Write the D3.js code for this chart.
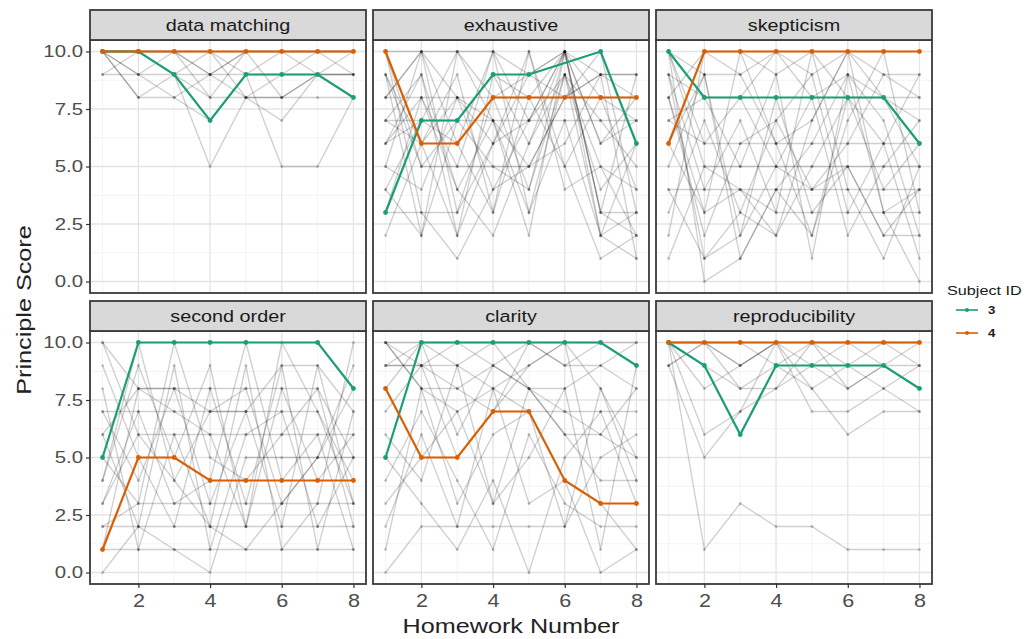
<!DOCTYPE html>
<html>
<head>
<meta charset="utf-8">
<script src="https://cdn.jsdelivr.net/npm/d3@7"></script>
<style>
  body { margin: 0; background: #fff; }
  svg { display: block; font-family: "Liberation Sans", Arial, sans-serif; }
</style>
</head>
<body>
<svg id="chart" width="1029" height="639"></svg>
<script>
(function () {

  // facets, in reading order
  var principles = ['data matching', 'exhaustive', 'skepticism', 'second order', 'clarity', 'reproducibility']
  var homework = [1, 2, 3, 4, 5, 6, 7, 8]
  var xTicks = [2, 4, 6, 8]
  var yTicks = [0, 2.5, 5, 7.5, 10]

  // highlighted subjects, one row per principle (null = no score that week)
  var subject3 = [
    [10, 10, 9, 7, 9, 9, 9, 8],
    [3, 7, 7, 9, 9, null, 10, 6],
    [10, 8, 8, 8, 8, 8, 8, 6],
    [5, 10, 10, 10, 10, null, 10, 8],
    [5, 10, 10, 10, 10, 10, 10, 9],
    [10, 9, 6, 9, 9, 9, 9, 8]
  ]
  var subject4 = [
    [10, 10, 10, 10, 10, 10, 10, 10],
    [10, 6, 6, 8, 8, 8, 8, 8],
    [6, 10, 10, 10, 10, 10, 10, 10],
    [1, 5, 5, 4, 4, 4, 4, 4],
    [8, 5, 5, 7, 7, 4, 3, 3],
    [10, 10, 10, 10, 10, 10, 10, 10]
  ]

  // everybody else (grey lines), one array per principle
  var dataMatching = [
    [10, 8, 9, 10, 8, 8, 8, 8],
    [10, 9, 9, 9, 9, 9, 9, 9],
    [10, 10, 9, 5, 8, 9, 10, 9],
    [10, 10, 10, 10, 9, 5, 5, 8],
    [9, 10, 10, 8, 10, 10, 10, 10],
    [10, 8, 8, 9, 10, 10, 9, 8],
    [10, 10, 10, 10, 10, 10, 10, 10],
    [10, 10, 9, 8, 8, 7, 9, 10],
    [10, 9, 10, 9, 10, 8, 9, 9],
    [9, 9, 8, 7, 9, 10, 10, 10],
    [10, 10, 10, 9, 8, 8, 9, 9]
  ]
  var exhaustive = [
    [10, 10, 10, 10, 9, 10, 2, 3],
    [9, 5, 5, 5, 5, 8, 9, 9],
    [8, 8, 8, 8, 8, 8, 8, 8],
    [7, 7, 7, 7, 7, 7, 7, 7],
    [6, 7, 10, 8, 9, 10, 9, 9],
    [8, 10, 6, 10, 7, 10, 3, 2],
    [3, 3, 3, 6, 7, 9, 5, 2],
    [5, 10, 8, 7, 3, 9, 2, 1],
    [4, 2, 10, 7, 2, 10, 8, 4],
    [7, 6, 2, 9, 8, 10, 3, 3],
    [10, 3, 1, 4, 5, 6, 9, 1],
    [6, 9, 4, 2, 6, 9, 4, 6],
    [2, 6, 9, 3, 10, 5, 8, 7],
    [9, 2, 7, 5, 4, 10, 6, 8],
    [6, 8, 5, 10, 3, 7, 2, 6],
    [5, 4, 8, 6, 9, 8, 10, 3],
    [8, 10, 3, 8, 4, 9, 7, 5],
    [4, 7, 6, 3, 8, 5, 1, 2],
    [10, 5, 7, 9, 6, 10, 6, 7],
    [7, 9, 2, 6, 10, 4, 5, 4],
    [3, 8, 4, 7, 5, 8, 9, 8],
    [9, 6, 8, 4, 7, 10, 3, 9]
  ]
  var skepticism = [
    [10, 9, 9, 10, 9, 10, 9, 9],
    [9, 8, 8, 10, 8, 9, 8, 8],
    [8, 10, 10, 9, 10, 8, 8, 7],
    [10, 5, 5, 5, 5, 5, 5, 5],
    [4, 4, 4, 4, 4, 4, 4, 4],
    [7, 6, 6, 6, 6, 6, 6, 6],
    [1, 5, 4, 3, 3, 3, 3, 3],
    [9, 1, 2, 5, 4, 5, 2, 2],
    [10, 0, 1, 4, 6, 9, 3, 0],
    [6, 3, 4, 2, 7, 10, 8, 5],
    [5, 9, 2, 8, 3, 5, 2, 4],
    [8, 2, 6, 7, 9, 3, 6, 1],
    [3, 7, 3, 2, 5, 8, 4, 6],
    [2, 10, 9, 6, 2, 7, 10, 3],
    [9, 4, 7, 3, 10, 4, 1, 5],
    [7, 8, 5, 9, 1, 9, 7, 2],
    [10, 6, 8, 5, 8, 2, 5, 7],
    [4, 1, 3, 7, 4, 6, 9, 8],
    [8, 3, 10, 6, 7, 10, 3, 4],
    [6, 9, 1, 4, 2, 8, 6, 9]
  ]
  var secondOrder = [
    [10, 8, 8, 7, 7, 9, 9, 7],
    [7, 7, 7, 7, 7, 7, 7, 4],
    [3, 6, 6, 6, 6, 6, 6, 6],
    [6, 8, 8, 8, 8, 8, 8, 5],
    [2, 3, 3, 3, 3, 3, 3, 3],
    [2, 2, 2, 2, 2, 2, 2, 2],
    [1, 1, 1, 1, 1, 1, 1, 1],
    [0, 2, 1, 0, 5, 5, 5, 5],
    [10, 6, 4, 2, 1, 3, 5, 8],
    [7, 4, 8, 3, 7, 2, 9, 3],
    [4, 9, 5, 9, 2, 8, 4, 6],
    [8, 1, 6, 2, 9, 1, 3, 10],
    [5, 3, 10, 5, 4, 6, 8, 2],
    [9, 5, 2, 8, 3, 9, 1, 7],
    [3, 7, 3, 4, 10, 4, 6, 1],
    [6, 2, 9, 1, 6, 7, 2, 5],
    [1, 8, 7, 6, 2, 10, 7, 3],
    [4, 10, 4, 7, 8, 3, 5, 9]
  ]
  var clarity = [
    [10, 10, 10, 10, 10, 10, 10, 10],
    [9, 9, 10, 9, 10, 9, 10, 9],
    [10, 8, 8, 9, 8, 8, 9, 8],
    [9, 9, 9, 8, 7, 7, 7, 7],
    [8, 10, 9, 10, 8, 6, 6, 8],
    [10, 8, 7, 8, 9, 10, 8, 5],
    [7, 9, 8, 7, 10, 9, 9, 10],
    [9, 10, 6, 9, 8, 7, 6, 5],
    [3, 5, 7, 3, 8, 6, 4, 4],
    [2, 6, 2, 8, 3, 4, 0, 1],
    [0, 2, 2, 2, 2, 2, 5, 6],
    [5, 3, 1, 4, 0, 5, 7, 3],
    [4, 7, 4, 1, 6, 3, 2, 2],
    [6, 4, 9, 3, 5, 8, 1, 9],
    [1, 8, 3, 6, 7, 2, 8, 4],
    [10, 9, 5, 7, 9, 10, 3, 1]
  ]
  var reproducibility = [
    [10, 1, 3, 2, 2, 1, 1, 1],
    [9, 5, 7, 8, 9, 8, 9, 9],
    [10, 6, 7, 10, 8, 6, 7, 7],
    [9, 10, 9, 10, 7, 7, 8, 9],
    [10, 10, 10, 10, 10, 10, 10, 10],
    [10, 9, 8, 8, 10, 9, 10, 10],
    [9, 10, 9, 10, 9, 10, 9, 8],
    [10, 10, 10, 9, 8, 9, 8, 7],
    [10, 8, 9, 10, 10, 8, 9, 10],
    [10, 10, 8, 9, 10, 10, 10, 9]
  ]
  var others = [dataMatching, exhaustive, skepticism, secondOrder, clarity, reproducibility]

  var subjectIds = ['3', '4']
  var colors = ['#1b9e77', '#d95f02']

  // layout
  var colLeft = [90, 373, 656]
  var rowTop = [40, 331]
  var panelW = 276, panelH = 253, stripH = 30
  var stretch = 1.2   // the reference type is set wide

  var svg = d3.select('#chart')

  var x = d3.scaleLinear().domain([0.65, 8.35]).range([0, panelW])
  var y = d3.scaleLinear().domain([-0.5, 10.5]).range([panelH, 0])

  // turn a row of 8 scores into points, skipping the missing weeks
  function toPoints(row) {
    return homework.map((h, i) => ({ hw: h, score: row[i] })).filter(d => d.score != null)
  }

  var line = d3.line().x(d => x(d.hw)).y(d => y(d.score))

  function wideText(parent, px, py, str, size, opts) {
    opts = opts || {}
    var g = parent.append('g')
      .attr('transform', 'translate(' + px + ',' + py + ')' + (opts.rotate ? ' rotate(' + opts.rotate + ')' : '') + ' scale(' + stretch + ',1)')
    return g.append('text')
      .attr('text-anchor', opts.anchor || 'middle')
      .attr('font-size', size)
      .attr('font-weight', opts.weight || 'normal')
      .attr('fill', opts.color || '#1a1a1a')
      .text(str)
  }

  principles.forEach(function (name, p) {
    var col = p % 3, row = Math.floor(p / 3)
    var g = svg.append('g').attr('transform', 'translate(' + colLeft[col] + ',' + rowTop[row] + ')')

    g.append('rect').attr('width', panelW).attr('height', panelH).attr('fill', 'white')

    // minor grid then major grid
    g.selectAll('.minY').data([1.25, 3.75, 6.25, 8.75]).enter().append('line')
      .attr('x1', 0).attr('x2', panelW).attr('y1', d => y(d)).attr('y2', d => y(d))
      .attr('stroke', '#f0f0f0').attr('stroke-width', 0.8)
    g.selectAll('.minX').data([1, 3, 5, 7]).enter().append('line')
      .attr('y1', 0).attr('y2', panelH).attr('x1', d => x(d)).attr('x2', d => x(d))
      .attr('stroke', '#f0f0f0').attr('stroke-width', 0.8)
    g.selectAll('.majY').data(yTicks).enter().append('line')
      .attr('x1', 0).attr('x2', panelW).attr('y1', d => y(d)).attr('y2', d => y(d))
      .attr('stroke', '#e4e4e4').attr('stroke-width', 1.3)
    g.selectAll('.majX').data(xTicks).enter().append('line')
      .attr('y1', 0).attr('y2', panelH).attr('x1', d => x(d)).attr('x2', d => x(d))
      .attr('stroke', '#e4e4e4').attr('stroke-width', 1.3)

    // grey spaghetti
    var rows = others[p].map(toPoints)
    g.selectAll('.grey').data(rows).enter().append('path')
      .attr('d', line)
      .attr('fill', 'none')
      .attr('stroke', 'black')
      .attr('stroke-opacity', 0.19)
      .attr('stroke-width', 1.35)
    g.selectAll('.greyDot').data(d3.merge(rows)).enter().append('circle')
      .attr('cx', d => x(d.hw)).attr('cy', d => y(d.score)).attr('r', 1.5)
      .attr('fill', 'black').attr('fill-opacity', 0.2)

    // highlighted subjects
    ;[subject3, subject4].forEach(function (subj, s) {
      var pts = toPoints(subj[p])
      g.append('path').datum(pts)
        .attr('d', line)
        .attr('fill', 'none')
        .attr('stroke', colors[s])
        .attr('stroke-width', 2.2)
      g.selectAll('.dot' + s).data(pts).enter().append('circle')
        .attr('cx', d => x(d.hw)).attr('cy', d => y(d.score)).attr('r', 2.4)
        .attr('fill', colors[s])
    })

    // border
    g.append('rect').attr('width', panelW).attr('height', panelH)
      .attr('fill', 'none').attr('stroke', '#3a3a3a').attr('stroke-width', 1.8)

    // strip
    g.append('rect').attr('y', -stripH).attr('width', panelW).attr('height', stripH)
      .attr('fill', '#d9d9d9').attr('stroke', '#3a3a3a').attr('stroke-width', 1.8)
    wideText(g, panelW / 2, -stripH / 2 + 6, name, 16.5)

    // axes only on the outer sides
    if (col === 0) {
      var ay = g.append('g').call(d3.axisLeft(y).tickValues(yTicks).tickFormat(d3.format('.1f')).tickSize(4).tickPadding(3))
      ay.select('.domain').remove()
      ay.selectAll('line').attr('stroke', '#333333').attr('stroke-width', 1.2)
      ay.selectAll('text')
        .attr('font-size', 17).attr('fill', '#4d4d4d').attr('font-family', null)
        .attr('x', -7 / stretch).attr('transform', 'scale(' + stretch + ',1)')
    }
    if (row === 1) {
      var ax = g.append('g').attr('transform', 'translate(0,' + panelH + ')')
        .call(d3.axisBottom(x).tickValues(xTicks).tickSize(4).tickPadding(6))
      ax.select('.domain').remove()
      ax.selectAll('line').attr('stroke', '#333333').attr('stroke-width', 1.2)
      ax.selectAll('text')
        .attr('font-size', 18).attr('fill', '#4d4d4d').attr('font-family', null)
        .attr('transform', 'scale(' + stretch + ',1)')
    }
  })

  // axis titles
  wideText(svg, 511, 633, 'Homework Number', 21, { color: '#222' })
  wideText(svg, 31, 310, 'Principle Score', 21, { rotate: -90, color: '#222' })

  // legend
  var legend = svg.append('g')
  wideText(legend, 947, 295, 'Subject ID', 13.5, { anchor: 'start' })
  subjectIds.forEach(function (id, i) {
    var ly = 310 + i * 23
    legend.append('line').attr('x1', 956).attr('x2', 978).attr('y1', ly).attr('y2', ly)
      .attr('stroke', colors[i]).attr('stroke-width', 1.6)
    legend.append('circle').attr('cx', 967).attr('cy', ly).attr('r', 2).attr('fill', colors[i])
    wideText(legend, 988, ly + 4, id, 11, { anchor: 'start', weight: 'bold' })
  })

})()
</script>
</body>
</html>
